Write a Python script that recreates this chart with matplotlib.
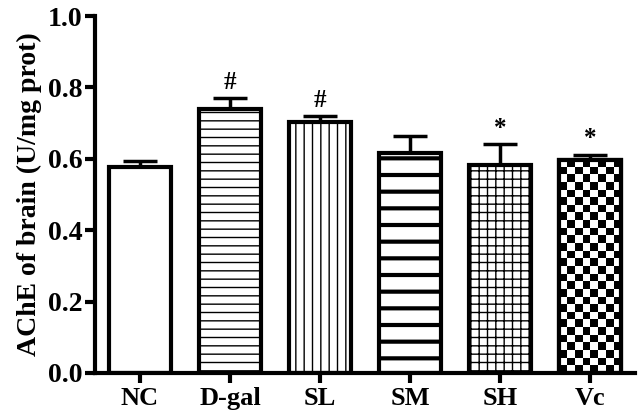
import numpy as np
import matplotlib
matplotlib.use("Agg")
import matplotlib.pyplot as plt

# ================= DATA =================
groups = ["NC", "D-gal", "SL", "SM", "SH", "Vc"]
ache_mean = [0.577, 0.739, 0.702, 0.616, 0.582, 0.598]
ache_err = [0.018, 0.031, 0.017, 0.048, 0.059, 0.014]
sig_marks = ["", "#", "#", "", "*", "*"]

hatches = ["", "--", "||", "-", "++", None]
hatch_lw = [1.0, 1.0, 1.0, 3.0, 1.0, 1.0]

plt.rcParams["font.family"] = ["Liberation Serif", "DejaVu Serif"]
plt.rcParams["font.weight"] = "bold"
plt.rcParams["hatch.color"] = "black"

fig = plt.figure(figsize=(6.39, 4.20), dpi=100)
ax = fig.add_axes([95 / 639, 1 - 373 / 420, 540 / 639, 357 / 420])

x = np.arange(len(groups))
width = 0.69
bars = []
for i in range(len(groups)):
    plt.rcParams["hatch.linewidth"] = hatch_lw[i]
    b = ax.bar(x[i], ache_mean[i], width=width, color="white",
               edgecolor="black", linewidth=3.0,
               hatch=hatches[i] if hatches[i] else None, zorder=2)[0]
    bars.append(b)

# checkerboard fill for Vc
vc = bars[5]
bx, by = vc.get_x(), vc.get_y()
bw, bh = vc.get_width(), vc.get_height()
nx = 8
ny = int(round(bh * 357 / (bw * 90 / nx)))
checker = (np.indices((ny, nx)).sum(axis=0) % 2).astype(float)
im = ax.imshow(checker, cmap="gray_r", extent=(bx, bx + bw, by, by + bh),
               aspect="auto", interpolation="nearest", zorder=2.5, vmin=0, vmax=1)
im.set_clip_path(vc)
ax.bar(x[5], ache_mean[5], width=width, color="none", edgecolor="black",
       linewidth=3.0, zorder=3)

ax.errorbar(x, ache_mean, yerr=[np.zeros(len(groups)), ache_err], fmt="none",
            ecolor="black", elinewidth=2.5, capsize=12, capthick=2.5, zorder=1)

for i, m in enumerate(sig_marks):
    if m:
        ax.text(x[i], ache_mean[i] + ache_err[i] + 0.012, m, ha="center",
                va="bottom", fontsize=18, fontweight="bold")

ax.set_xlim(-0.5, 5.5)
ax.set_ylim(0, 1.0)
ax.set_xticks(x)
ax.set_xticklabels(groups, fontsize=19, fontweight="bold")
ax.set_yticks(np.arange(0, 1.01, 0.2))
ax.set_yticklabels([f"{v:.1f}" for v in np.arange(0, 1.01, 0.2)],
                   fontsize=20, fontweight="bold")
ax.set_ylabel("AChE of brain (U/mg prot)", fontsize=20, fontweight="bold",
              labelpad=4)

for side in ["top", "right"]:
    ax.spines[side].set_visible(False)
for side in ["left", "bottom"]:
    ax.spines[side].set_linewidth(3)
ax.tick_params(axis="both", width=3, length=7, direction="out")
ax.tick_params(axis="y", pad=2)
ax.tick_params(axis="x", pad=3)

fig.savefig("out.png", dpi=100)
